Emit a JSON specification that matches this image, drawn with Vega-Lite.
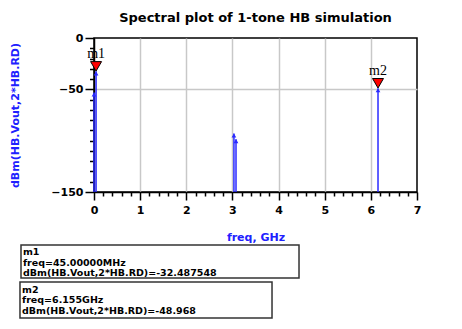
{
  "$schema": "https://vega.github.io/schema/vega-lite/v6.json",
  "width": 323,
  "height": 154,
  "autosize": "none",
  "padding": {"left": 94, "top": 38, "right": 45, "bottom": 137},
  "background": "white",
  "title": {"text": "Spectral plot of 1-tone HB simulation", "font": "DejaVu Sans", "fontSize": 13, "fontWeight": "bold", "color": "black", "offset": 7, "anchor": "middle"},
  "config": {
    "view": {"stroke": "black", "strokeWidth": 1.5},
    "axis": {"tickColor": "black", "domainColor": "black", "labelColor": "black", "gridColor": "#c8c8c8", "gridWidth": 1.5, "labelFont": "DejaVu Sans", "labelFontSize": 11, "labelFontWeight": "bold", "titleFont": "DejaVu Sans", "titleFontSize": 11, "titleFontWeight": "bold", "titleColor": "#2020ff", "labelFlush": false, "labelOverlap": false}
  },
  "datasets": {
    "spikes": [
      {"freq": 0, "dBm": -53},
      {"freq": 0.045, "dBm": -32.487548},
      {"freq": 3.0325, "dBm": -93},
      {"freq": 3.0775, "dBm": -98.5},
      {"freq": 6.155, "dBm": -48.968}
    ],
    "markers": [
      {"name": "m1", "freq": 0.045, "dBm": -32.487548, "info": "m1\nfreq=45.00000MHz\ndBm(HB.Vout,2*HB.RD)=-32.487548"},
      {"name": "m2", "freq": 6.155, "dBm": -48.968, "info": "m2\nfreq=6.155GHz\ndBm(HB.Vout,2*HB.RD)=-48.968"}
    ]
  },
  "layer": [
    {
      "data": {"name": "spikes"},
      "mark": {"type": "rule", "color": "#2a2aff", "strokeWidth": 1.5},
      "encoding": {
        "x": {"field": "freq", "type": "quantitative", "scale": {"domain": [0, 7], "nice": false, "zero": false},
          "axis": {"orient": "bottom", "values": [0, 1, 2, 3, 4, 5, 6, 7], "format": "d", "grid": false, "tickSize": 8, "tickWidth": 1.5, "domainWidth": 1.5, "labelPadding": 4, "title": "freq, GHz", "titlePadding": 16}},
        "y": {"field": "dBm", "type": "quantitative", "scale": {"domain": [-150, 0], "nice": false, "zero": false},
          "axis": {"orient": "left", "values": [0, -50, -150], "format": "d", "grid": false, "tickSize": 9, "tickWidth": 1.5, "domainWidth": 1.5, "labelPadding": 2, "title": "dBm(HB.Vout,2*HB.RD)", "titlePadding": 30}},
        "y2": {"datum": -150}
      }
    },
    {
      "data": {"name": "spikes"},
      "mark": {"type": "point", "opacity": 0},
      "encoding": {
        "x": {"field": "freq", "type": "quantitative",
          "axis": {"orient": "bottom", "values": [0.2, 0.4, 0.6, 0.8, 1.2, 1.4, 1.6, 1.8, 2.2, 2.4, 2.6, 2.8, 3.2, 3.4, 3.6, 3.8, 4.2, 4.4, 4.6, 4.8, 5.2, 5.4, 5.6, 5.8, 6.2, 6.4, 6.6, 6.8], "labels": false, "domain": false, "grid": false, "tickSize": 4, "tickWidth": 1.5, "title": null}},
        "y": {"field": "dBm", "type": "quantitative",
          "axis": {"orient": "left", "values": [-10, -20, -30, -40, -60, -70, -80, -90, -100, -110, -120, -130, -140], "labels": false, "domain": false, "grid": false, "tickSize": 4.5, "tickWidth": 1.5, "title": null}}
      }
    },
    {
      "data": {"name": "spikes"},
      "mark": {"type": "point", "opacity": 0},
      "encoding": {
        "x": {"field": "freq", "type": "quantitative",
          "axis": {"orient": "bottom", "values": [1, 2, 3, 4, 5, 6], "labels": false, "domain": false, "ticks": false, "grid": true, "title": null}},
        "y": {"field": "dBm", "type": "quantitative",
          "axis": {"orient": "left", "values": [-50], "labels": false, "domain": false, "ticks": false, "grid": true, "title": null}}
      }
    },
    {
      "data": {"name": "spikes"},
      "mark": {"type": "point", "shape": "triangle-up", "filled": true, "color": "#2a2aff", "size": 22, "opacity": 1, "yOffset": 2},
      "encoding": {
        "x": {"field": "freq", "type": "quantitative", "axis": null},
        "y": {"field": "dBm", "type": "quantitative", "axis": null}
      }
    },
    {
      "data": {"name": "markers"},
      "mark": {"type": "point", "shape": "triangle-down", "filled": true, "fill": "#ff0000", "stroke": "black", "strokeWidth": 1, "size": 120, "opacity": 1, "yOffset": -5},
      "encoding": {
        "x": {"field": "freq", "type": "quantitative", "axis": null},
        "y": {"field": "dBm", "type": "quantitative", "axis": null}
      }
    },
    {
      "data": {"name": "markers"},
      "mark": {"type": "text", "font": "Liberation Serif", "fontSize": 14, "color": "black", "dy": -17},
      "encoding": {
        "x": {"field": "freq", "type": "quantitative", "axis": null},
        "y": {"field": "dBm", "type": "quantitative", "axis": null},
        "text": {"field": "name"}
      }
    },
    {
      "data": {"name": "markers"},
      "transform": [{"filter": "datum.name == 'm1'"}],
      "mark": {"type": "rect", "fill": "white", "stroke": "#333333", "strokeWidth": 1.5},
      "encoding": {
        "x": {"datum": -1.582, "type": "quantitative", "axis": null},
        "x2": {"datum": 4.443},
        "y": {"datum": -201.6, "type": "quantitative", "axis": null},
        "y2": {"datum": -233.8}
      }
    },
    {
      "data": {"name": "markers"},
      "transform": [{"filter": "datum.name == 'm2'"}],
      "mark": {"type": "rect", "fill": "white", "stroke": "#333333", "strokeWidth": 1.5},
      "encoding": {
        "x": {"datum": -1.604, "type": "quantitative", "axis": null},
        "x2": {"datum": 3.858},
        "y": {"datum": -237.7, "type": "quantitative", "axis": null},
        "y2": {"datum": -272.7}
      }
    },
    {
      "data": {"name": "markers"},
      "transform": [{"filter": "datum.name == 'm1'"}],
      "mark": {"type": "text", "font": "DejaVu Sans", "fontWeight": "bold", "fontSize": 9.5, "lineHeight": 10.5, "lineBreak": "\n", "align": "left", "baseline": "top", "color": "black"},
      "encoding": {
        "x": {"datum": -1.54, "type": "quantitative", "axis": null},
        "y": {"datum": -203.8, "type": "quantitative", "axis": null},
        "text": {"field": "info"}
      }
    },
    {
      "data": {"name": "markers"},
      "transform": [{"filter": "datum.name == 'm2'"}],
      "mark": {"type": "text", "font": "DejaVu Sans", "fontWeight": "bold", "fontSize": 9.5, "lineHeight": 10.5, "lineBreak": "\n", "align": "left", "baseline": "top", "color": "black"},
      "encoding": {
        "x": {"datum": -1.56, "type": "quantitative", "axis": null},
        "y": {"datum": -240.2, "type": "quantitative", "axis": null},
        "text": {"field": "info"}
      }
    }
  ],
  "resolve": {"axis": {"x": "independent", "y": "independent"}}
}
